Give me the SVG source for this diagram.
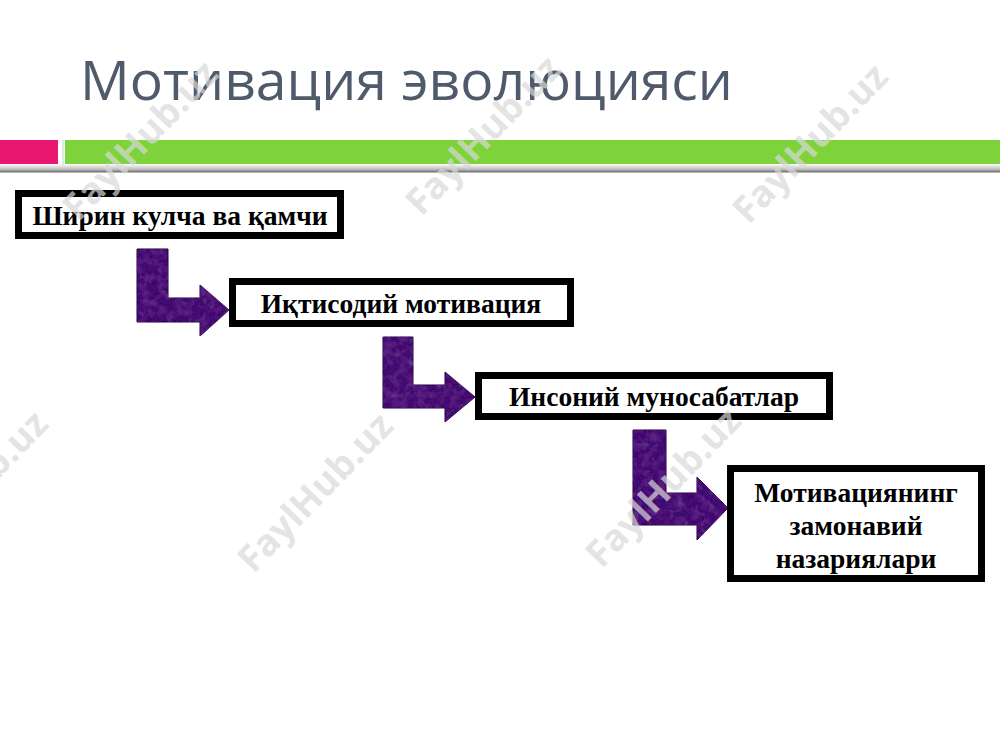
<svg xmlns="http://www.w3.org/2000/svg" width="1000" height="750" viewBox="0 0 1000 750">
  <defs>
    <style>
      .title { font-family: "Open Sans", "Noto Sans", "DejaVu Sans", sans-serif; font-size: 55px; fill: #4f5a6b; }
      .box { fill: #ffffff; stroke: #000000; stroke-width: 7; }
      .lbl { font-family: "Liberation Serif", "Times New Roman", serif; font-weight: bold; font-size: 27.5px; fill: #000000; text-anchor: middle; }
      .arrow { fill: #3f1170; stroke: #250842; stroke-width: 1; filter: url(#tex); }
      .wm { font-family: "Open Sans", "Liberation Sans", sans-serif; font-weight: bold; font-size: 37px; fill: #d9d9d9; fill-opacity: 0.7; text-anchor: middle; }
    </style>
    <filter id="tex" x="-5%" y="-5%" width="110%" height="110%">
      <feTurbulence type="fractalNoise" baseFrequency="0.12" numOctaves="3" seed="7" result="noise"/>
      <feColorMatrix in="noise" type="matrix" values="0 0 0 0 0.16  0 0 0 0 0.03  0 0 0 0 0.28  1.2 0 0 0 -0.45" result="dark"/>
      <feColorMatrix in="noise" type="matrix" values="0 0 0 0 0.33  0 0 0 0 0.14  0 0 0 0 0.50  0 0.7 0 0 -0.4" result="light"/>
      <feComposite in="dark" in2="SourceGraphic" operator="in" result="darkIn"/>
      <feComposite in="light" in2="SourceGraphic" operator="in" result="lightIn"/>
      <feMerge>
        <feMergeNode in="SourceGraphic"/>
        <feMergeNode in="darkIn"/>
        <feMergeNode in="lightIn"/>
      </feMerge>
    </filter>
    <linearGradient id="shadow" x1="0" y1="0" x2="0" y2="1">
      <stop offset="0" stop-color="#ffffff"/>
      <stop offset="0.6" stop-color="#bdbdbd"/>
      <stop offset="0.85" stop-color="#7a7a7a"/>
      <stop offset="1" stop-color="#d8d8d8"/>
    </linearGradient>
  </defs>

  <rect x="0" y="0" width="1000" height="750" fill="#ffffff"/>

  <g id="title">
    <text class="title" x="80" y="100" textLength="653" lengthAdjust="spacingAndGlyphs">Мотивация эволюцияси</text>
  </g>

  <g id="header-bars">
    <rect x="0" y="164" width="1000" height="9" fill="url(#shadow)"/>
    <rect x="0" y="140" width="58" height="24" fill="#e8176f"/>
    <rect x="65" y="140" width="935" height="24" fill="#7ed23a"/>
    <rect x="62" y="140" width="2" height="26" fill="#e4e4e4"/>
  </g>

  <g id="connectors">
    <path class="arrow" d="M137,249 H168 V298 H200 V285 L229,310 L200,336 V322 H137 Z"/>
    <path class="arrow" d="M383,337 H413 V385 H445 V372 L475,397 L445,422 V408 H383 Z"/>
    <path class="arrow" d="M633,430 H666 V493 H697 V477 L728,508 L697,540 V525 H633 Z"/>
  </g>

  <g id="node1">
    <rect class="box" x="18.5" y="193.5" width="322" height="42"/>
    <text class="lbl" x="180" y="225">Ширин кулча ва қамчи</text>
  </g>

  <g id="node2">
    <rect class="box" x="232.5" y="281.5" width="338" height="42"/>
    <text class="lbl" x="401" y="313">Иқтисодий мотивация</text>
  </g>

  <g id="node3">
    <rect class="box" x="478.5" y="375.5" width="351" height="41"/>
    <text class="lbl" x="654" y="406">Инсоний муносабатлар</text>
  </g>

  <g id="node4">
    <rect class="box" x="730.5" y="468.5" width="251" height="110"/>
    <text class="lbl" x="856" y="502">Мотивациянинг</text>
    <text class="lbl" x="856" y="535">замонавий</text>
    <text class="lbl" x="856" y="568">назариялари</text>
  </g>

  <g id="watermarks">
    <text class="wm" x="140" y="153" transform="rotate(-46 140 140)">FaylHub.uz</text>
    <text class="wm" x="483" y="148" transform="rotate(-46 483 135)">FaylHub.uz</text>
    <text class="wm" x="810" y="156" transform="rotate(-46 810 143)">FaylHub.uz</text>
    <text class="wm" x="-30" y="503" transform="rotate(-46 -30 490)">FaylHub.uz</text>
    <text class="wm" x="315" y="505" transform="rotate(-46 315 492)">FaylHub.uz</text>
    <text class="wm" x="663" y="500" transform="rotate(-46 663 487)">FaylHub.uz</text>
  </g>
</svg>
